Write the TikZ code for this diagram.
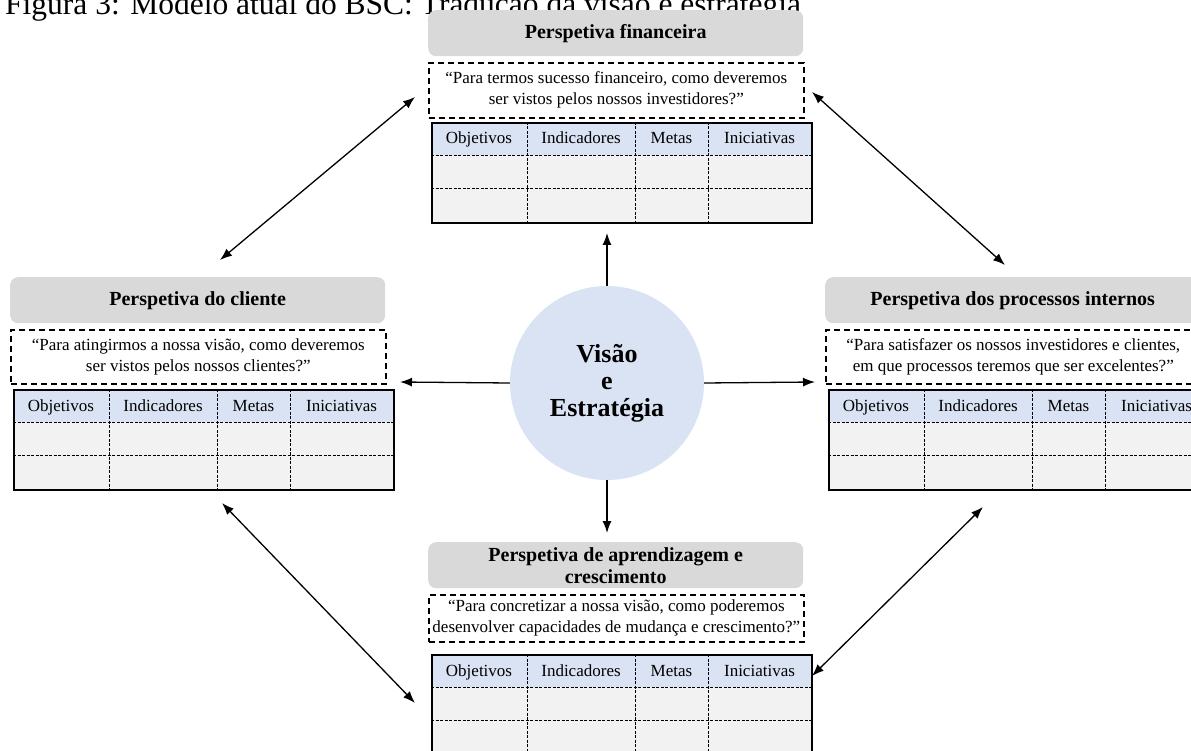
\documentclass[tikz,border=0pt]{standalone}
\usepackage{fontspec}
\setmainfont{Liberation Serif}
\usetikzlibrary{arrows.meta,shapes.geometric}
\definecolor{hdrgray}{HTML}{D9D9D9}
\definecolor{rowblue}{HTML}{DAE3F3}
\definecolor{cellgray}{HTML}{F2F2F2}
\definecolor{circblue}{HTML}{DAE3F3}
\tikzset{
 hdrbox/.style={fill=hdrgray, rounded corners=8pt, minimum width=375pt, minimum height=46pt, inner sep=0pt, anchor=north west, font=\fontsize{20}{22}\selectfont\bfseries, align=center},
 quotebox/.style={draw, dash pattern=on 6pt off 4pt, line width=1.6pt, minimum width=375pt, minimum height=55pt, anchor=north west, font=\fontsize{17}{21}\selectfont, align=center, inner sep=0pt},
 tablebox/.style={draw, line width=1.7pt, minimum width=380pt, minimum height=100pt, anchor=north west, inner sep=0pt},
 cellrule/.style={dash pattern=on 3pt off 1.5pt, line width=0.9pt},
 celltext/.style={font=\fontsize{17}{20}\selectfont, inner sep=0pt, anchor=base},
 link/.style={line width=1.3pt, -{Latex[length=12pt,width=9pt]}},
 dlink/.style={line width=1.3pt, {Latex[length=12pt,width=9pt]}-{Latex[length=12pt,width=9pt]}},
}
\newcommand\perspgroup[6]{%
\begin{scope}[shift={(#2,#3)}]
 \node[hdrbox] (#1h) at (0,0) {#4};
 \node[quotebox, minimum height=#6] (#1q) at (0,52) {#5};
 \fill[rowblue] (3,112) rectangle (383,145);
 \fill[cellgray] (3,145) rectangle (383,212);
 \draw[cellrule] (3,145) -- (383,145) (3,178) -- (383,178);
 \draw[cellrule] (99,112) -- (99,212) (207,112) -- (207,212) (280,112) -- (280,212);
 \node[tablebox] (#1t) at (3,112) {};
 \node[celltext] (#1c1) at (51,134) {Objetivos};
 \node[celltext] (#1c2) at (153,134) {Indicadores};
 \node[celltext] (#1c3) at (243.5,134) {Metas};
 \node[celltext] (#1c4) at (331.5,134) {Iniciativas};
\end{scope}}
\begin{document}
\begin{tikzpicture}[x=1pt,y=-1pt]
\useasboundingbox (0,0) rectangle (1191,751);
\clip (0,0) rectangle (1191,751);
\node[anchor=base west, inner sep=0pt, font=\fontsize{31.5}{34}\selectfont] (title) at (5,15) {Figura 3: Modelo atual do BSC: Tradução da visão e estratégia};
\perspgroup{F}{428}{10}{Perspetiva financeira}{“Para termos sucesso financeiro, como deveremos\\ser vistos pelos nossos investidores?”}{55pt}
\perspgroup{C}{10}{277}{Perspetiva do cliente}{“Para atingirmos a nossa visão, como deveremos\\ser vistos pelos nossos clientes?”}{54pt}
\perspgroup{P}{825}{277}{Perspetiva dos processos internos}{“Para satisfazer os nossos investidores e clientes,\\em que processos teremos que ser excelentes?”}{54pt}
\perspgroup{A}{428}{542}{Perspetiva de aprendizagem e\\crescimento}{“Para concretizar a nossa visão, como poderemos\\desenvolver capacidades de mudança e crescimento?”}{47pt}
\node[circle, fill=circblue, minimum size=194pt, inner sep=0pt, align=center, font=\fontsize{26}{27}\selectfont\bfseries] (vis) at (607,383) {Visão\\e\\Estratégia};
\coordinate (aT) at (607,233);
\coordinate (aB) at (607,533);
\coordinate (aL) at (400,382);
\coordinate (aR) at (815,382);
\draw[link] (vis.north) -- (aT);
\draw[link] (vis.south) -- (aB);
\draw[link] (vis.west) -- (aL);
\draw[link] (vis.east) -- (aR);
\coordinate (d1a) at (220,260); \coordinate (d1b) at (415,97);
\coordinate (d2a) at (812,92); \coordinate (d2b) at (1005,265);
\coordinate (d3a) at (222,503); \coordinate (d3b) at (415,703);
\coordinate (d4a) at (812,676); \coordinate (d4b) at (983,507);
\draw[dlink] (d1a) -- (d1b);
\draw[dlink] (d2a) -- (d2b);
\draw[dlink] (d3a) -- (d3b);
\draw[dlink] (d4a) -- (d4b);
\end{tikzpicture}
\end{document}
